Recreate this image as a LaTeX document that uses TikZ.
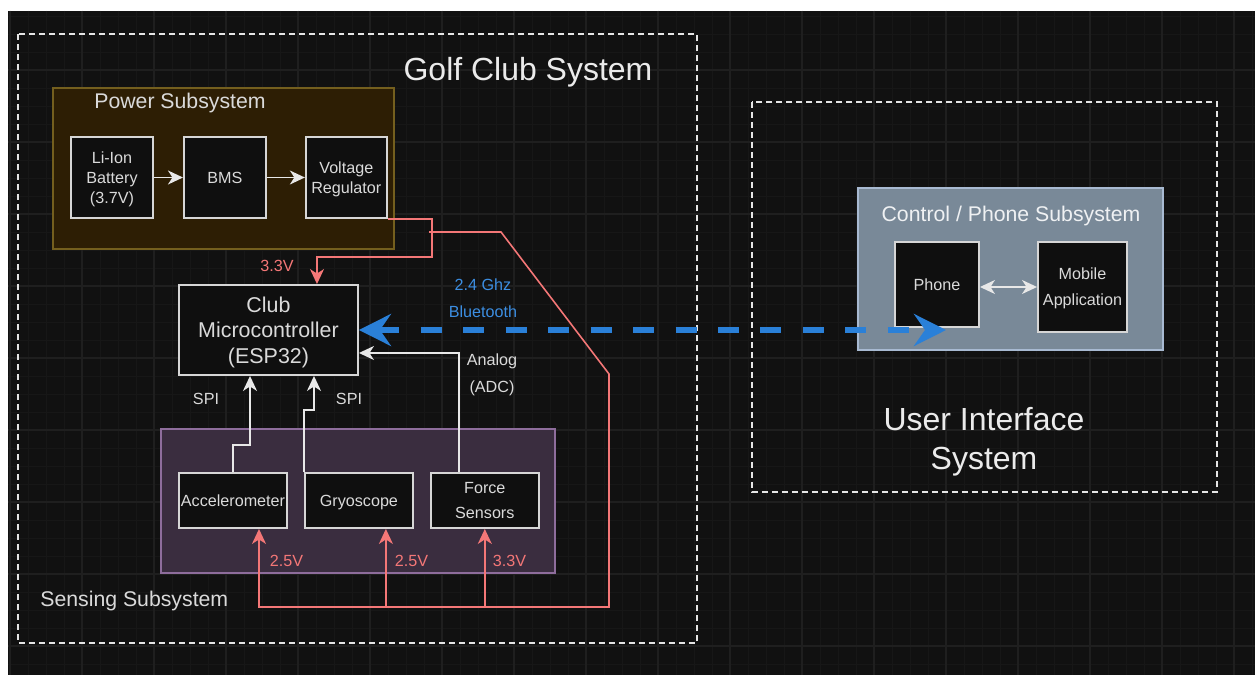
\documentclass[tikz,border=0pt]{standalone}
\usepackage{fontspec}
\setmainfont{Liberation Sans}
\usetikzlibrary{positioning, arrows.meta, calc}

\definecolor{canvas}{HTML}{111111}
\definecolor{gridmin}{HTML}{171717}
\definecolor{gridmaj}{HTML}{1F1F1F}
\definecolor{txt}{HTML}{DADADA}
\definecolor{edge}{HTML}{D6D6D6}
\definecolor{blkfill}{HTML}{0F0F0F}
\definecolor{wirec}{HTML}{E8E8E8}
\definecolor{redc}{HTML}{F47777}
\definecolor{bluec}{HTML}{2A80D8}
\definecolor{bluetxt}{HTML}{3C8EE2}
\definecolor{pwrfill}{HTML}{2D1E04}
\definecolor{pwrdraw}{HTML}{745F1E}
\definecolor{senfill}{HTML}{3A2D3F}
\definecolor{sendraw}{HTML}{8E6D9C}
\definecolor{ctlfill}{HTML}{798998}
\definecolor{ctldraw}{HTML}{A8BAD2}

\begin{document}
\begin{tikzpicture}[
  x=0.02cm, y=-0.02cm,
  >={Stealth[length=0.3cm, width=0.28cm, inset=0.09cm]},
  every node/.style={font=\fontsize{9.2}{11.3}\selectfont, text=txt},
  blk/.style   = {draw=edge, fill=blkfill, line width=1.1pt, align=center, inner sep=0.5pt, text depth=0pt},
  ttl/.style   = {font=\fontsize{12.1}{14.5}\selectfont},
  big/.style   = {font=\fontsize{18.2}{22.2}\selectfont, align=center, text=white!92!black},
  sysbox/.style = {draw=white!90!black, line width=1.1pt, dash pattern=on 0.12cm off 0.08cm},
  wire/.style  = {->, draw=wirec, line width=0.9pt},
  pwr/.style   = {->, draw=redc, line width=0.9pt},
  vlab/.style  = {text=redc},
  blab/.style  = {text=bluetxt},
  bt/.style    = {{Stealth[length=0.64cm, width=0.64cm, inset=0.22cm]}-{Stealth[length=0.64cm, width=0.64cm, inset=0.22cm]},
                  draw=bluec, line width=3.4pt, dash pattern=on 0.42cm off 0.43cm},
]
  \useasboundingbox (0,0) rectangle (1255,675);
  \fill[white] (0,0) rectangle (1255,675);
  \fill[canvas] (8,11) rectangle (1255,675);
  \foreach \gx in {10,28,...,1252} \draw[gridmin, line width=0.5pt] (\gx,11) -- (\gx,675);
  \foreach \gy in {16,34,...,664} \draw[gridmin, line width=0.5pt] (8,\gy) -- (1255,\gy);
  \foreach \gx in {10,82,...,1234} \draw[gridmaj, line width=0.6pt] (\gx,11) -- (\gx,675);
  \foreach \gy in {70,142,...,646} \draw[gridmaj, line width=0.6pt] (8,\gy) -- (1255,\gy);

  \draw[sysbox] (18,34) rectangle (697,643);
  \draw[sysbox] (752,102) rectangle (1217,492);
  \node[big] (golf) at (528,72) {Golf Club System};
  \node[big] (ui) at (984,442) {User Interface\\System};

  \draw[fill=pwrfill, draw=pwrdraw, line width=0.9pt] (53,88) rectangle (394,249);
  \draw[fill=senfill, draw=sendraw, line width=0.9pt] (161,429) rectangle (555,573);
  \draw[fill=ctlfill, draw=ctldraw, line width=0.9pt] (858,188) rectangle (1163,350);
  \node[ttl, anchor=west, inner xsep=0pt] (pwrttl) at (94,103.5) {Power Subsystem};
  \node[ttl, anchor=west, inner xsep=0pt] (senttl) at (40,601) {Sensing Subsystem};
  \node[ttl, text=white!88!ctlfill] (ctlttl) at (1011,216) {Control / Phone Subsystem};

  \node[blk, minimum width=1.64cm, minimum height=1.62cm] (bat) at (112,177.5) {Li-Ion\\Battery\\(3.7V)};
  \node[blk, minimum width=1.64cm, minimum height=1.62cm, right=0.58cm of bat] (bms) {BMS};
  \node[blk, minimum width=1.62cm, minimum height=1.62cm, right=0.76cm of bms] (vreg) {Voltage\\Regulator};

  \node[blk, minimum width=3.58cm, minimum height=1.8cm, font=\fontsize{12.2}{14.6}\selectfont] (mcu) at (268.5,330) {Club\\Microcontroller\\(ESP32)};

  \node[blk, minimum width=2.16cm, minimum height=1.1cm] (acc) at (233,500.5) {Accelerometer};
  \node[blk, minimum width=2.16cm, minimum height=1.1cm, right=0.32cm of acc] (gyr) {Gryoscope};
  \node[blk, minimum width=2.16cm, minimum height=1.1cm, right=0.32cm of gyr, font=\fontsize{9.2}{14.7}\selectfont] (frc) {Force\\Sensors};

  \node[blk, minimum width=1.68cm, minimum height=1.7cm] (phone) at (937,284.5) {Phone};
  \node[blk, minimum width=1.78cm, minimum height=1.8cm, font=\fontsize{9.2}{14.7}\selectfont] (app) at (1082.5,287) {Mobile\\Application};

  \draw[wire] (bat) -- (bms);
  \draw[wire] (bms) -- (vreg);
  \draw[wire, <->] (phone.east |- app.west) -- (app.west);

  \draw[wire] (acc.north) -- ++(0,0.54cm) -| ([xshift=-0.37cm]mcu.south);
  \draw[wire] (gyr.north west) -- ++(0,1.24cm) -| ([xshift=0.91cm]mcu.south);
  \draw[wire] ([xshift=-0.52cm]frc.north) |- ([yshift=-0.46cm]mcu.east);
  \node (spia) at (206,399) {SPI};
  \node (spib) at (349,399) {SPI};
  \node[align=center, font=\fontsize{9.2}{15.3}\selectfont] (adc) at (492,375) {Analog\\(ADC)};

  \draw[pwr] (vreg.south east) -- ++(0.88cm,0) -- ++(0,-0.76cm) -| ([xshift=0.97cm]mcu.north);
  \coordinate (bus) at (609,607);
  \draw[pwr] (429,232) -- (501,232) -- (609,374) -- (bus) -| ([xshift=0.52cm]acc.south);
  \draw[pwr] ([xshift=0.54cm]gyr.south |- bus) -- ([xshift=0.54cm]gyr.south);
  \draw[pwr] (frc.south |- bus) -- (frc.south);
  \node[vlab] (v33a) at (277,266) {3.3V};
  \node[vlab] (v25a) at (286.5,561) {2.5V};
  \node[vlab] (v25b) at (411.5,561) {2.5V};
  \node[vlab] (v33b) at (509.5,561) {3.3V};

  \coordinate (btend) at (946,330);
  \draw[bt] (mcu.east) -- (btend);
  \node[blab, align=center, font=\fontsize{9.2}{15.3}\selectfont] (ble) at (483,298) {2.4 Ghz\\Bluetooth};
\end{tikzpicture}
\end{document}
